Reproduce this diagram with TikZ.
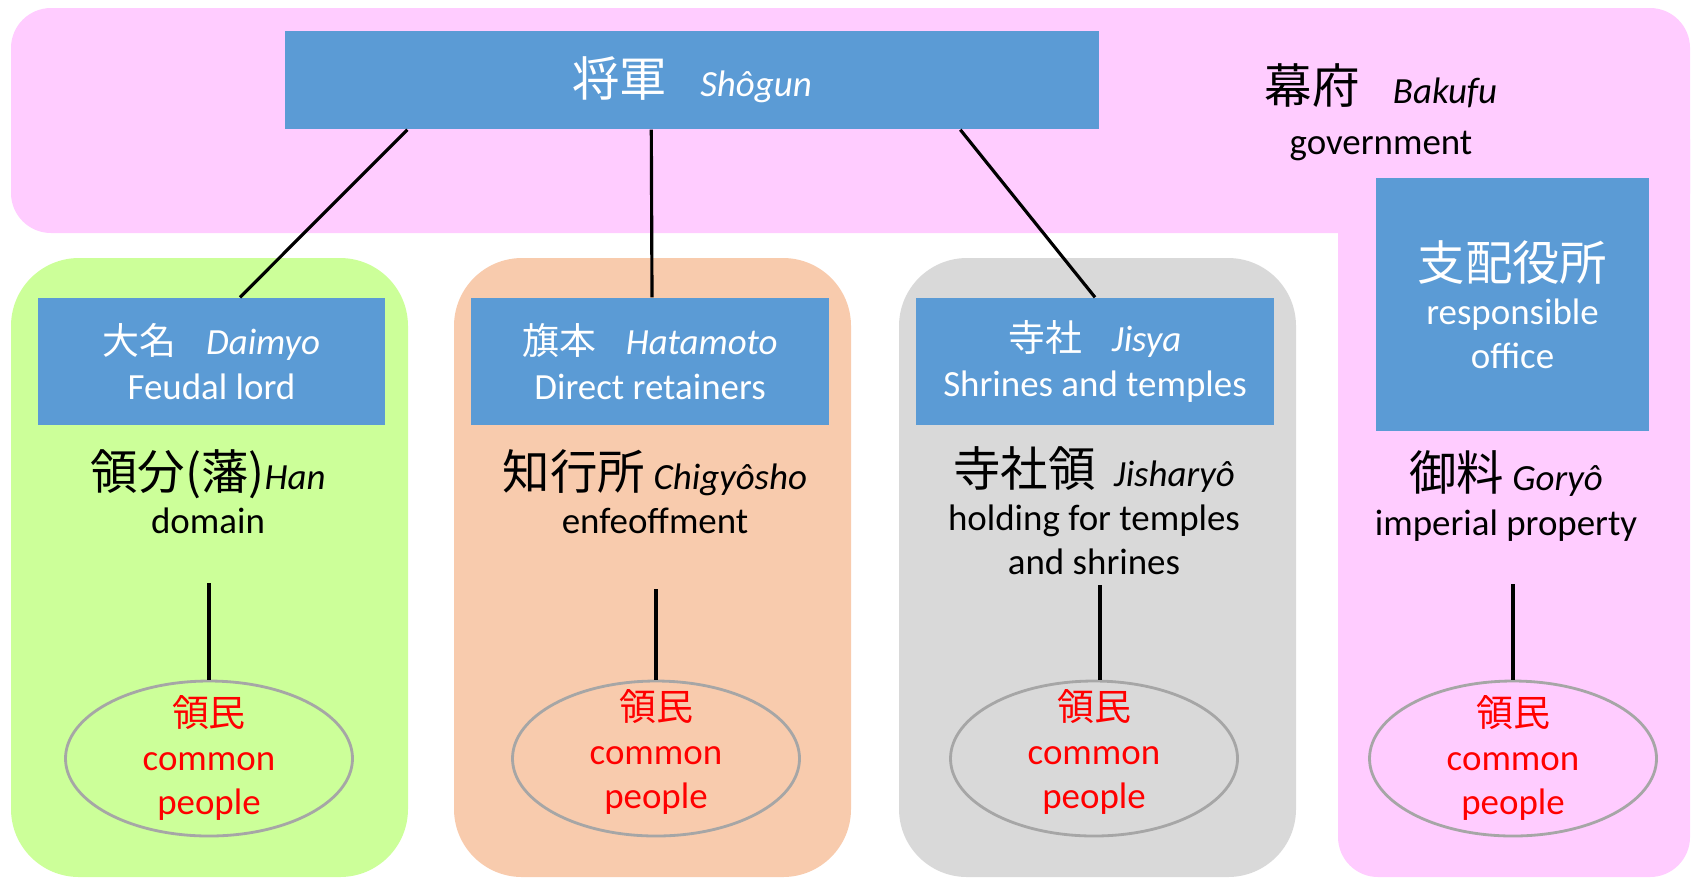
\documentclass[tikz,border=0pt]{standalone}
\usepackage{fontspec}
\setmainfont{Carlito}
\newfontfamily\jpfont{Noto Sans CJK JP}
\usetikzlibrary{shapes.geometric}

\definecolor{bakufupink}{HTML}{FFCCFF}
\definecolor{hangreen}{HTML}{CCFF99}
\definecolor{chigyoorange}{HTML}{F8CBAD}
\definecolor{jisyagray}{HTML}{D9D9D9}
\definecolor{officeblue}{HTML}{5B9BD5}
\definecolor{rimgray}{HTML}{A6A6A6}

\newcommand{\bigjp}[1]{{\jpfont\fontsize{13.5}{15}\selectfont #1}}
\newcommand{\smalljp}[1]{{\jpfont #1}}

\tikzset{
  office/.style={fill=officeblue, text=white, inner sep=0pt, align=center,
    minimum height=1.27cm},
  holding/.style={align=center, inner sep=0pt},
  people/.style={ellipse, draw=rimgray, line width=0.8pt, inner sep=0pt,
    minimum width=2.87cm, minimum height=1.55cm},
  peopletext/.style={text=red, align=center, inner sep=0pt},
  link/.style={line width=0.9pt}
}

\begin{document}
\begin{tikzpicture}[font=\fontsize{10.5}{12.6}\selectfont]
    \useasboundingbox (0,0) rectangle (16.92,-8.77);

    % backgrounds
    \fill [bakufupink, rounded corners=0.4cm] (0.11,-0.08) rectangle (16.90,-2.33);
    \fill [bakufupink, rounded corners=0.4cm] (13.38,-1.00) rectangle (16.90,-8.77);
    \fill [hangreen, rounded corners=0.68cm] (0.11,-2.58) rectangle (4.08,-8.77);
    \fill [chigyoorange, rounded corners=0.68cm] (4.54,-2.58) rectangle (8.51,-8.77);
    \fill [jisyagray, rounded corners=0.68cm] (8.99,-2.58) rectangle (12.96,-8.77);

    % offices
    \node [office, minimum width=8.14cm, minimum height=0.98cm] (shogun)
      at (6.92,-0.80) {\bigjp{将軍}\hspace{0.9em}\textit{Shôgun}};
    \node [holding] (bakufu) at (13.81,-1.12)
      {\bigjp{幕府}\hspace{0.9em}\textit{Bakufu}\\[2pt]government};

    \node [office, minimum width=3.47cm] (daimyo) at (2.115,-3.615)
      {\smalljp{大名}\hspace{0.8em}\textit{Daimyo}\\Feudal lord};
    \node [office, minimum width=3.58cm] (hatamoto) at (6.50,-3.615)
      {\smalljp{旗本}\hspace{0.8em}\textit{Hatamoto}\\Direct retainers};
    \node [office, minimum width=3.58cm] (jisya) at (10.95,-3.615)
      {\smalljp{寺社}\hspace{0.8em}\textit{Jisya}\\Shrines and temples};
    \node [office, minimum width=2.73cm, minimum height=2.53cm] (shihai)
      at (15.125,-3.045) {\bigjp{支配役所}\\responsible\\office};

    % holdings
    \node [holding] (han) at (2.08,-4.915)
      {\bigjp{領分(藩)}\textit{Han}\\domain};
    \node [holding] (chigyosho) at (6.55,-4.915)
      {\bigjp{知行所} \textit{Chigyôsho}\\enfeoffment};
    \node [holding] (jisharyo) at (10.94,-5.105)
      {\bigjp{寺社領}\hspace{0.5em}\textit{Jisharyô}\\holding for temples\\and shrines};
    \node [holding] (goryo) at (15.06,-4.96)
      {\bigjp{御料} \textit{Goryô}\\imperial property};

    % common people
    \node [people] (hanpeople) at (2.09,-7.585) {};
    \node [people] (chigyopeople) at (6.56,-7.585) {};
    \node [people] (jisyapeople) at (10.94,-7.585) {};
    \node [people] (goryopeople) at (15.13,-7.585) {};
    \node [peopletext] (hantext) at (2.09,-7.58) {\smalljp{領民}\\common\\people};
    \node [peopletext] (chigyotext) at (6.56,-7.52) {\smalljp{領民}\\common\\people};
    \node [peopletext] (jisyatext) at (10.94,-7.52) {\smalljp{領民}\\common\\people};
    \node [peopletext] (goryotext) at (15.13,-7.58) {\smalljp{領民}\\common\\people};

    \coordinate (hanline) at (2.09,-5.83);
    \coordinate (chigyoline) at (6.56,-5.89);
    \coordinate (jisyaline) at (11.00,-5.85);
    \coordinate (goryoline) at (15.13,-5.84);

    % links
    \draw [link] ([xshift=1.23cm]shogun.south west) -- ([xshift=0.285cm]daimyo.north);
    \draw [link] ([xshift=3.67cm]shogun.south west) -- ([xshift=0.02cm]hatamoto.north);
    \draw [link] ([xshift=6.76cm]shogun.south west) -- (jisya.north);

    \draw [link] (hanline) -- (hanpeople.north);
    \draw [link] (chigyoline) -- (chigyoline |- chigyopeople.north);
    \draw [link] (jisyaline) -- (jisyaline |- jisyapeople.north);
    \draw [link] (goryoline) -- (goryopeople.north);
  \end{tikzpicture}
\end{document}
